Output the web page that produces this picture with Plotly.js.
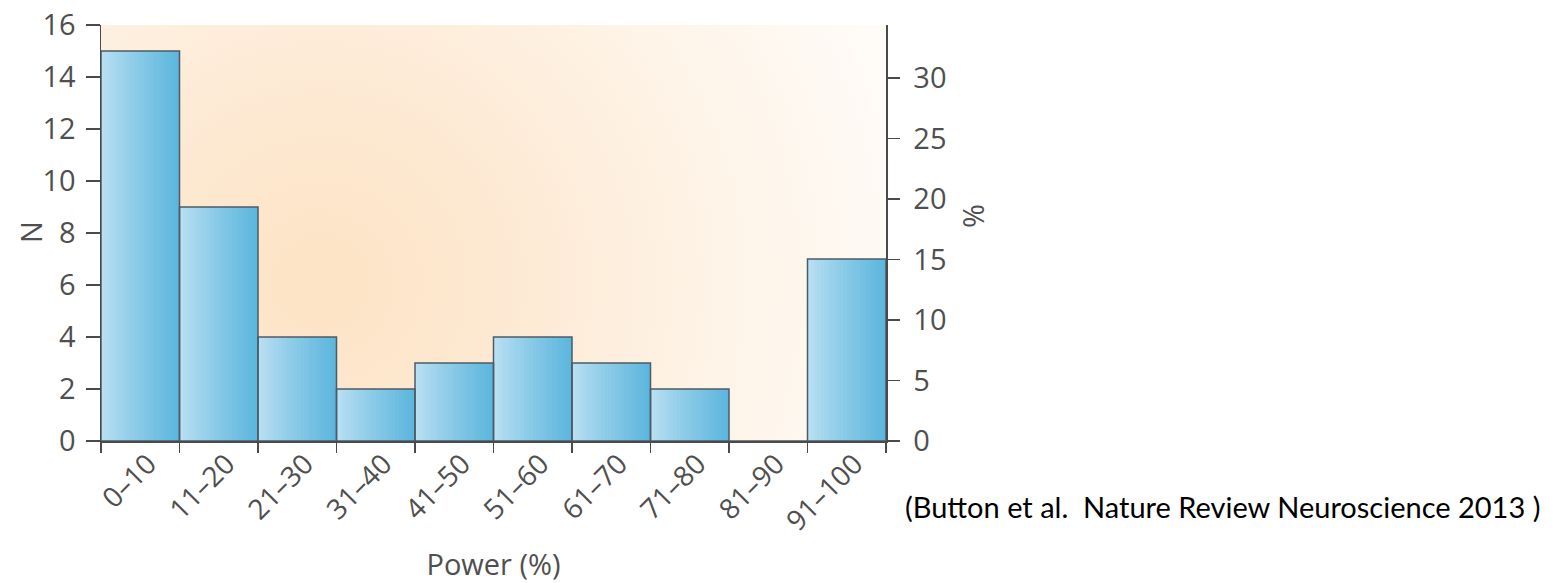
<!DOCTYPE html>
<html>
<head>
<meta charset="utf-8">
<script src="https://cdn.plot.ly/plotly-3.0.1.min.js"></script>
<style>
  html, body { margin: 0; padding: 0; background: #ffffff; }
  #chart { width: 1553px; height: 583px; }
</style>
</head>
<body>
<div id="chart"></div>
<script>
// Statistical power bins and number of meta-analyses in each bin
const powerBins = ["0–10", "11–20", "21–30", "31–40", "41–50", "51–60", "61–70", "71–80", "81–90", "91–100"];
const studyCounts = [15, 9, 4, 2, 3, 4, 3, 2, 0, 7];

// Left axis (N) and right axis (%) scales
const countTicks = [0, 2, 4, 6, 8, 10, 12, 14, 16];
const percentTicks = [0, 5, 10, 15, 20, 25, 30];
const countMax = 16;
const percentMax = 34.4;

const captionText = "(Button et al.  Nature Review Neuroscience 2013 )";

const W = 1553, H = 583;
const M = { l: 101, r: W - 886, t: 25, b: H - 441 };
const plotW = W - M.l - M.r, plotH = H - M.t - M.b;

// Soft peach wash behind the bars
function peachWash() {
  const c = document.createElement("canvas");
  c.width = plotW; c.height = plotH;
  const g = c.getContext("2d");
  g.fillStyle = "#fffcf9";
  g.fillRect(0, 0, plotW, plotH);
  const cx = plotW * 0.28, cy = plotH * 0.62;
  const rg = g.createRadialGradient(cx, cy, 0, cx, cy, plotW * 0.80);
  rg.addColorStop(0.0, "#fde3c4");
  rg.addColorStop(0.3, "#fde9d3");
  rg.addColorStop(0.65, "#fef4e8");
  rg.addColorStop(1.0, "#fffcf9");
  g.fillStyle = rg;
  g.fillRect(0, 0, plotW, plotH);
  return c.toDataURL("image/png");
}

function mix(a, b, t) {
  const pa = [1, 3, 5].map(i => parseInt(a.substr(i, 2), 16));
  const pb = [1, 3, 5].map(i => parseInt(b.substr(i, 2), 16));
  const p = pa.map((v, i) => Math.round(v + (pb[i] - v) * t));
  return "rgb(" + p.join(",") + ")";
}

// Each bar is filled with thin vertical strips running light to dark blue
const strips = 24;
const traces = [];
for (let k = 0; k < strips; k++) {
  const t = k / (strips - 1);
  traces.push({
    type: "bar",
    x: powerBins,
    y: studyCounts,
    width: 1 / strips + 0.006,
    offset: -0.5 + k / strips,
    marker: { color: mix("#b9dff2", "#5cb6dd", Math.pow(t, 0.9)), line: { width: 0 } },
    hoverinfo: "skip",
    showlegend: false
  });
}
// Bar outlines
traces.push({
  type: "bar",
  x: powerBins,
  y: studyCounts,
  width: 1,
  offset: -0.5,
  marker: { color: "rgba(0,0,0,0)", line: { color: "#4d5b66", width: 1.5 } },
  hoverinfo: "x+y",
  showlegend: false
});
// Percentage axis carrier
traces.push({
  type: "scatter",
  mode: "none",
  x: powerBins,
  y: studyCounts.map(n => n * percentMax / countMax),
  yaxis: "y2",
  hoverinfo: "skip",
  showlegend: false
});

const textColor = "#4f4f4f";
const tickFont = { family: "Open Sans, sans-serif", size: 29, color: textColor };
const titleFont = { family: "Open Sans, sans-serif", size: 29, color: textColor };
const axisColor = "#4a4a4a";

const layout = {
  width: W, height: H,
  margin: M,
  paper_bgcolor: "#ffffff",
  plot_bgcolor: "rgba(0,0,0,0)",
  barmode: "overlay",
  bargap: 0,
  showlegend: false,
  images: [{
    source: peachWash(),
    xref: "paper", yref: "paper",
    x: 0, y: 1, sizex: 1, sizey: 1,
    xanchor: "left", yanchor: "top",
    sizing: "stretch", layer: "below"
  }],
  xaxis: {
    type: "category",
    range: [-0.5, 9.5],
    tickson: "boundaries",
    ticks: "outside", ticklen: 10, tickwidth: 1.5, tickcolor: axisColor,
    showline: true, linecolor: axisColor, linewidth: 1.5,
    showgrid: false, zeroline: false,
    tickangle: -45,
    ticklabelstandoff: -6,
    ticklabelshift: 8,
    tickfont: { family: "Open Sans, sans-serif", size: 28, color: textColor },
    title: { text: "Power (%)", font: titleFont, standoff: 18 }
  },
  yaxis: {
    range: [0, countMax],
    tickvals: countTicks,
    ticks: "outside", ticklen: 14, tickwidth: 1.5, tickcolor: axisColor,
    showline: true, linecolor: axisColor, linewidth: 1.5,
    showgrid: false, zeroline: false,
    tickfont: tickFont,
    ticklabelstandoff: 4
  },
  yaxis2: {
    overlaying: "y",
    side: "right",
    range: [0, percentMax],
    tickvals: percentTicks,
    ticks: "outside", ticklen: 12, tickwidth: 1.5, tickcolor: axisColor,
    showline: true, linecolor: axisColor, linewidth: 1.5,
    showgrid: false, zeroline: false,
    tickfont: tickFont,
    ticklabelstandoff: 8
  },
  annotations: [
    {
      // left axis title
      text: "N",
      xref: "paper", yref: "paper",
      x: (30 - M.l) / plotW, y: (441 - 232) / plotH,
      xanchor: "center", yanchor: "middle",
      textangle: -90, showarrow: false,
      font: titleFont
    },
    {
      // right axis title
      text: "%",
      xref: "paper", yref: "paper",
      x: (972 - M.l) / plotW, y: (441 - 216) / plotH,
      xanchor: "center", yanchor: "middle",
      textangle: -90, showarrow: false,
      font: titleFont
    },
    {
      text: captionText,
      xref: "paper", yref: "paper",
      x: (903 - M.l) / plotW, y: -(506 - 441) / plotH,
      xanchor: "left", yanchor: "middle",
      showarrow: false,
      font: { family: "Lato, sans-serif", size: 29, color: "#000000" }
    }
  ]
};

Plotly.newPlot("chart", traces, layout, { staticPlot: true, displayModeBar: false });
</script>
</body>
</html>
